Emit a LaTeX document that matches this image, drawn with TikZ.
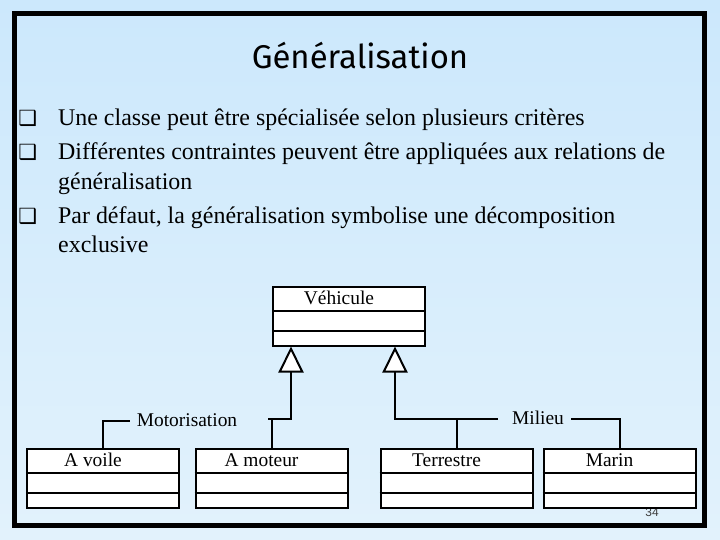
\documentclass[tikz,border=0pt]{standalone}
\usepackage{fontspec}
\setmainfont{Liberation Serif}
\newfontfamily\ttlfont{Fira Sans}
\newfontfamily\symfont{DejaVu Sans}
\newfontfamily\numfont{Liberation Sans}
\usetikzlibrary{arrows.meta,positioning,calc}
\definecolor{slidehi}{RGB}{204,232,252}
\definecolor{slidelo}{RGB}{226,242,252}
\definecolor{pggray}{RGB}{60,60,60}
\newcommand{\bul}{\llap{\raisebox{0bp}{\symfont\fontsize{21}{21}\selectfont\char"2751}\hspace{21bp}}}
\tikzset{
  frm/.style={draw=black, line width=5bp},
  ttl/.style={font=\ttlfont\fontsize{33}{36}\selectfont, inner sep=0pt},
  items/.style={anchor=north west, align=left, font=\fontsize{24}{30}\selectfont, inner sep=0pt},
  cls/.style={draw=black, fill=white, line width=2bp, minimum width=152bp,
              minimum height=59bp, inner sep=0pt},
  clsname/.style={font=\fontsize{19.5}{22}\selectfont, inner sep=0pt, anchor=base},
  clsline/.style={line width=2bp},
  conn/.style={draw=black, line width=2bp},
  gen/.style={conn, -{Triangle[length=26bp, width=25bp, fill=white, line width=2bp]}},
  lbl/.style={font=\fontsize{19.5}{22}\selectfont, inner sep=7bp},
  pgnum/.style={font=\numfont\fontsize{12}{12}\selectfont, text=pggray, inner sep=0pt},
}
\begin{document}
\begin{tikzpicture}[x=1bp, y=-1bp]
  \useasboundingbox (0,0) rectangle (720,540);
  \shade[top color=slidehi, bottom color=slidelo] (0,0) rectangle (720,540);
  \draw[frm] (14,14) rectangle (704,525);
  \node[ttl] (title) at (360,56) {Généralisation};
  \node[items] (bullets) at (58,108.5) {\bul Une classe peut être spécialisée selon plusieurs critères\\[4bp]
    \bul Différentes contraintes peuvent être appliquées aux relations de\\
    généralisation\\[4bp]
    \bul Par défaut, la généralisation symbolise une décomposition\\
    exclusive};
  \node[pgnum] (page) at (652,512) {34};
  % classes
  \foreach \nm/\cx/\cy/\txt in {vehicule/349/316/Véhicule, avoile/103/478/A voile,
      amoteur/271.5/478/A moteur, terrestre/456.5/478/Terrestre, marin/619.5/478/Marin}{
    \node[cls] (\nm) at (\cx,\cy) {};
    \node[clsname] (\nm-t) at ([xshift=-10bp, yshift=-18.5bp]\nm.north) {\txt};
    \draw[clsline] ([yshift=-25bp]\nm.north west) -- ([yshift=-25bp]\nm.north east);
    \draw[clsline] ([yshift=16bp]\nm.south west) -- ([yshift=16bp]\nm.south east);
  }
  % generalisations
  \node[lbl] (motlab) at (187,420) {Motorisation};
  \node[lbl] (millab) at (538,418) {Milieu};
  \coordinate (mr) at (268,419);
  \coordinate (ml) at (498,419);
  \draw[conn] (avoile.north) |- ([yshift=-1bp]motlab.west);
  \draw[conn] (amoteur.north) |- (mr);
  \draw[gen] (mr) -| ([xshift=-58bp]vehicule.south);
  \draw[conn] (terrestre.north) |- (ml);
  \draw[gen] (ml) -| ([xshift=46bp]vehicule.south);
  \draw[conn] (marin.north) |- ([yshift=-1bp]millab.east);
\end{tikzpicture}
\end{document}
